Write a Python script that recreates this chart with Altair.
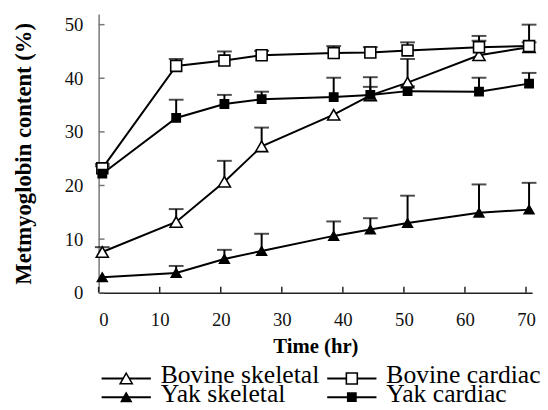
import altair as alt
import pandas as pd

# ---------------- data ----------------
series = ["Bovine skeletal", "Bovine cardiac", "Yak skeletal", "Yak cardiac"]
times = [0.6, 12.7, 20.6, 26.7, 38.5, 44.5, 50.6, 62.3, 70.5]

bovine_skeletal = [7.6, 13.2, 20.7, 27.3, 33.2, 36.8, 39.2, 44.3, 45.8]
bovine_skeletal_upper = [8.5, 15.6, 24.6, 30.8, 33.2, 38.4, 43.6, 47.9, 50.0]
bovine_cardiac = [23.2, 42.3, 43.3, 44.3, 44.7, 44.8, 45.2, 45.8, 46.0]
bovine_cardiac_upper = [24.0, 43.6, 45.0, 45.1, 46.0, 45.8, 46.7, 47.0, 46.7]
yak_skeletal = [2.9, 3.7, 6.3, 7.8, 10.6, 11.8, 13.0, 14.9, 15.5]
yak_skeletal_upper = [2.9, 5.0, 8.0, 11.0, 13.3, 13.9, 18.1, 20.2, 20.5]
yak_cardiac = [22.2, 32.6, 35.2, 36.1, 36.5, 36.9, 37.6, 37.5, 39.0]
yak_cardiac_upper = [23.6, 36.0, 36.9, 37.5, 40.1, 40.2, 38.5, 40.1, 41.0]

x_ticks = [0, 10, 20, 30, 40, 50, 60, 70]
y_ticks = [0, 10, 20, 30, 40, 50]

shapes = ["triangle-up", "square", "triangle-up", "square"]
fills = ["white", "white", "black", "black"]
sizes = [150, 70, 150, 140]

# ---------------- layout constants ----------------
W, H = 440, 283
FONT = "Liberation Serif, Times New Roman, serif"
legend_col_x = [28, 257]      # symbol centres, px from plot left
legend_row_y = [370, 389]     # symbol line, px from plot top
legend_text_dx = 35
legend_text_dy = 5

values = [bovine_skeletal, bovine_cardiac, yak_skeletal, yak_cardiac]
uppers = [bovine_skeletal_upper, bovine_cardiac_upper, yak_skeletal_upper, yak_cardiac_upper]
rows = []
for name, vals, ups in zip(series, values, uppers):
    for t, v, u in zip(times, vals, ups):
        rows.append({"series": name, "time": t, "value": v, "upper": u})
df = pd.DataFrame(rows)

xs = alt.Scale(domain=[0, 71], nice=False, zero=False)
ys = alt.Scale(domain=[0, 52], nice=False, zero=False)
shape_enc = alt.Shape("series:N", scale=alt.Scale(domain=series, range=shapes), legend=None)
fill_enc = alt.Fill("series:N", scale=alt.Scale(domain=series, range=fills), legend=None)
size_enc = alt.Size("series:N", scale=alt.Scale(domain=series, range=sizes), legend=None)

x_axis = alt.Axis(values=x_ticks, title="Time (hr)", grid=False, ticks=False, tickSize=0,
                  labelFont=FONT, labelFontSize=19, labelColor="#111", labelPadding=18,
                  titleFont=FONT, titleFontSize=21, titleFontWeight="bold", titleColor="black",
                  titleY=61, titleBaseline="alphabetic",
                  domainColor="#222", domainWidth=1.5)
y_axis = alt.Axis(values=y_ticks, title="Metmyoglobin content (%)", grid=False, ticks=False, tickSize=0,
                  labelFont=FONT, labelFontSize=19, labelColor="#111", labelPadding=16,
                  titleFont=FONT, titleFontSize=23, titleFontWeight="bold", titleColor="black",
                  titleX=-69, titleBaseline="alphabetic",
                  domainColor="#777", domainWidth=1.5)

base = alt.Chart(df)
lines = base.mark_line(color="black", strokeWidth=2).encode(
    x=alt.X("time:Q", scale=xs, axis=x_axis),
    y=alt.Y("value:Q", scale=ys, axis=y_axis),
    detail="series:N",
)
err = base.transform_filter("datum.upper > datum.value")
stems = err.mark_rule(color="black", strokeWidth=2).encode(
    x=alt.X("time:Q", scale=xs), y=alt.Y("value:Q", scale=ys), y2="upper:Q")
caps = err.mark_tick(color="black", thickness=2, size=15, orient="horizontal").encode(
    x=alt.X("time:Q", scale=xs), y=alt.Y("upper:Q", scale=ys))
points = base.mark_point(filled=True, stroke="black", strokeWidth=1.6, opacity=1).encode(
    x=alt.X("time:Q", scale=xs), y=alt.Y("value:Q", scale=ys),
    shape=shape_enc, fill=fill_enc, size=size_enc)

xt = alt.Chart(pd.DataFrame({"t": x_ticks})).mark_rule(color="#222", strokeWidth=1.5).encode(
    x=alt.X("t:Q", scale=xs), y=alt.value(H), y2=alt.value(H - 6))
yt = alt.Chart(pd.DataFrame({"v": y_ticks})).mark_rule(color="#777", strokeWidth=1.5).encode(
    y=alt.Y("v:Q", scale=ys), x=alt.value(0), x2=alt.value(6))

main = alt.layer(lines, stems, caps, points, xt, yt)

# ---------------- manual legend ----------------
leg = pd.DataFrame({
    "series": series,
    "px": [legend_col_x[i % 2] for i in range(4)],
    "py": [legend_row_y[i // 2] for i in range(4)],
})
lx = alt.Scale(domain=[0, W], range=[0, W], nice=False, zero=False)
ly = alt.Scale(domain=[0, H], range=[0, H], nice=False, zero=False)
lbase = alt.Chart(leg).transform_calculate(
    x1="datum.px - 25", x2="datum.px + 25",
    tx=f"datum.px + {legend_text_dx}", ty=f"datum.py + {legend_text_dy}")
leg_line = lbase.mark_rule(color="black", strokeWidth=2).encode(
    x=alt.X("x1:Q", scale=lx, axis=None), x2="x2:Q",
    y=alt.Y("py:Q", scale=ly, axis=None))
leg_pt = lbase.mark_point(filled=True, stroke="black", strokeWidth=1.6, opacity=1).encode(
    x=alt.X("px:Q", scale=lx, axis=None), y=alt.Y("py:Q", scale=ly, axis=None),
    shape=shape_enc, fill=fill_enc, size=size_enc)
leg_txt = lbase.mark_text(align="left", baseline="alphabetic", font=FONT, fontSize=26, color="black").encode(
    x=alt.X("tx:Q", scale=lx, axis=None), y=alt.Y("ty:Q", scale=ly, axis=None), text="series:N")
legend = alt.layer(leg_line, leg_pt, leg_txt)

chart = alt.layer(main, legend).resolve_scale(x="independent", y="independent").properties(
    width=W, height=H,
    padding={"left": 92, "top": 3, "right": 8, "bottom": 116},
    autosize=alt.AutoSizeParams(type="none"),
).configure_view(stroke=None)

chart.save("out.html", embed_options={"renderer": "svg", "actions": False})
